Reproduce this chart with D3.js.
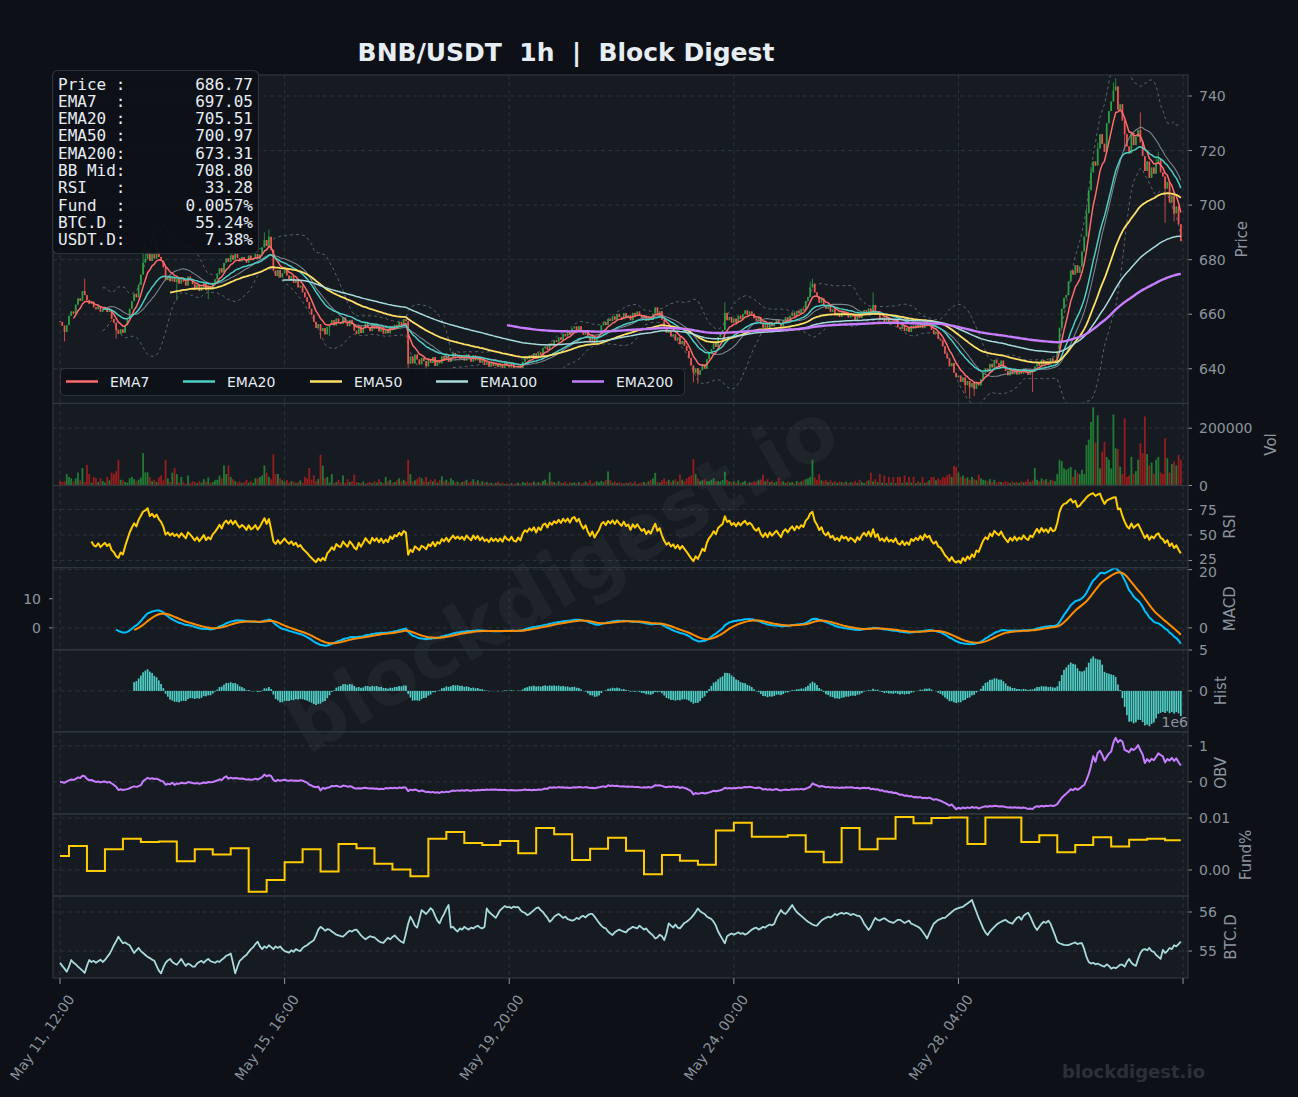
<!DOCTYPE html>
<html><head><meta charset="utf-8">
<script src="https://cdn.jsdelivr.net/npm/d3@7"></script>
<style>
html,body{margin:0;padding:0;background:#0d1117;}
svg{display:block;font-family:"DejaVu Sans",sans-serif;}
</style></head><body>
<svg id="c" width="1298" height="1097"></svg>
<script>
// ---------------- DATA ----------------
const firstOpen = 657.5;
const closes = [
657.2,655.8,653.5,656.0,659.4,661.0,660.2,663.5,665.8,664.9,
668.5,667.0,665.2,663.8,664.6,662.5,661.8,663.0,660.9,661.7,
662.4,660.8,661.5,658.2,656.9,654.1,652.8,654.5,653.2,656.0,
658.7,662.0,664.8,667.5,666.2,670.8,674.5,678.9,680.2,683.0,
679.5,682.0,680.4,683.1,681.0,679.6,677.2,672.5,674.0,672.1,
673.5,671.8,672.9,671.2,673.4,672.0,670.5,673.8,672.6,671.0,
669.2,670.8,668.5,669.9,671.6,668.8,670.2,669.0,671.5,672.8,
674.6,676.9,675.3,678.8,680.5,679.2,681.6,680.0,682.3,680.6,
679.4,681.0,680.2,678.9,681.5,679.8,680.6,682.1,680.3,681.9,
684.5,687.2,685.0,688.4,683.6,676.0,674.0,676.2,673.5,675.0,
676.5,674.2,672.8,674.0,671.5,672.6,669.8,670.5,668.0,666.2,
664.5,662.0,659.8,657.2,655.0,656.4,653.8,654.9,652.6,655.3,
656.2,657.8,655.9,658.4,657.0,656.5,658.8,657.1,655.6,657.9,
656.3,654.0,652.8,655.5,653.1,654.8,656.9,655.2,653.8,656.4,
654.6,655.9,653.7,655.3,652.9,654.4,653.0,655.6,654.2,656.1,
655.5,657.2,656.0,658.1,657.4,641.8,644.5,642.0,645.2,643.4,
641.6,644.0,642.8,640.9,643.5,642.1,644.3,641.0,643.2,642.0,
644.6,643.1,645.0,642.5,644.2,645.8,643.9,645.1,643.6,644.8,
643.0,645.2,643.8,642.6,644.9,643.1,644.5,642.2,643.6,641.5,
642.3,640.8,642.5,641.0,642.0,640.6,641.8,640.2,642.4,641.1,
640.5,641.9,640.1,639.8,641.2,640.0,642.6,644.1,643.5,645.0,
644.2,645.6,643.8,646.0,645.1,647.5,648.2,646.9,649.3,648.6,
650.4,649.8,651.5,650.6,652.8,651.9,653.6,652.4,654.8,655.5,
654.2,655.6,653.8,652.5,654.0,651.8,650.2,652.0,649.5,651.3,
652.8,655.9,657.1,656.0,658.3,657.5,659.2,658.0,660.1,659.0,
658.2,660.4,658.9,659.6,657.8,660.5,659.3,661.0,659.8,658.6,
659.5,657.6,658.9,657.9,660.2,662.5,659.8,661.1,658.0,655.4,
653.2,654.0,651.8,652.6,650.3,651.5,649.0,650.2,648.4,646.5,
644.0,641.2,638.5,640.2,637.8,639.5,641.6,640.0,643.5,645.8,
647.2,649.5,648.0,651.6,653.0,654.2,660.5,657.8,659.0,656.9,
658.4,656.8,659.5,658.2,660.1,661.4,659.8,661.0,660.2,658.5,
657.6,659.0,656.5,655.0,656.8,654.9,657.2,655.6,656.9,658.0,
656.5,655.2,657.8,658.9,657.6,659.4,660.6,659.1,661.2,660.3,
662.0,661.4,664.8,666.3,669.8,671.2,668.0,666.5,664.2,665.8,
663.1,662.0,663.5,660.9,661.8,659.6,660.5,659.0,661.2,659.9,
660.6,658.8,660.0,659.2,657.9,659.8,658.6,660.4,661.5,660.2,
662.1,660.0,663.4,659.8,661.2,657.9,658.8,657.2,659.0,656.8,
657.6,656.4,657.9,655.2,654.6,656.0,653.8,654.9,653.5,655.8,
654.8,656.1,655.0,656.7,654.9,657.2,655.8,656.5,654.2,652.8,
653.6,651.0,650.4,648.2,645.5,643.8,640.9,642.1,638.5,636.9,
637.5,635.2,636.8,634.0,635.5,633.2,634.8,632.6,635.0,633.9,
636.2,638.5,640.1,639.0,641.8,640.5,643.2,642.0,641.1,643.0,
640.8,639.2,637.6,639.5,638.0,639.8,637.9,639.1,638.2,640.0,
638.5,637.8,639.6,638.9,640.8,642.5,641.0,643.2,641.8,642.9,
641.6,643.8,642.5,643.0,646.5,655.0,662.0,666.0,667.0,672.0,
676.0,674.5,678.0,675.2,677.5,683.0,688.5,697.0,705.5,712.0,
716.0,714.5,720.8,726.0,722.5,719.5,730.0,734.5,738.0,742.0,
743.5,735.0,737.0,731.0,726.0,721.5,719.0,726.5,722.0,725.0,
727.5,723.0,718.0,712.5,716.0,710.0,713.8,711.5,715.2,717.0,
712.0,710.5,706.0,708.5,701.0,703.5,697.0,699.5,693.0,686.77
];
// notable wick extremes [index, price]
const wickHighs = [[11,673],[37,684],[38,686],[43,686],[91,690],[93,691],[296,664.5],[334,672],[335,673],[362,668],[457,699],[459,714],[462,723],[469,745],[470,746.5],[481,734],[488,718],[489,719.5]];
const wickLows = [[2,650],[25,651],[52,665],[66,665.5],[116,651],[120,652],[155,639],[163,638],[282,635],[284,634.5],[403,631],[405,629],[407,630],[433,631.5],[474,720],[492,693.5],[496,694]];
// volume in thousands
const volumeK = [
15,12,15,40,30,25,14,25,45,18,
61,12,72,40,10,30,25,12,25,16,
10,30,18,45,40,50,90,20,18,12,
10,25,30,22,15,20,28,113,46,46,
30,15,20,12,28,35,18,90,25,12,
45,61,40,10,30,12,6,35,9,15,
12,8,15,10,22,14,28,10,12,18,
20,35,25,70,40,70,30,22,15,10,
14,8,12,20,10,15,9,25,25,30,
35,70,45,30,22,109,40,40,25,18,
12,20,10,15,14,8,12,18,10,30,
25,61,20,35,15,22,107,70,25,30,
10,40,8,12,20,10,35,9,22,12,
15,38,12,10,8,14,6,10,12,8,
15,10,22,12,8,30,14,20,10,12,
18,25,14,20,15,90,40,15,18,22,
30,25,15,30,12,20,14,22,10,18,
32,15,20,12,25,18,10,14,8,12,
15,20,10,14,22,12,18,8,15,10,
12,8,10,6,9,14,7,10,5,8,
6,9,5,8,10,6,12,9,14,8,
10,14,8,12,9,16,20,10,46,14,
12,9,15,10,8,14,6,12,9,11,
8,12,6,10,14,9,18,7,12,15,
10,16,12,20,49,18,10,14,8,12,
9,6,10,8,12,7,14,5,9,10,
12,8,15,20,25,44,12,10,18,25,
15,20,12,18,22,14,38,20,15,25,
30,35,92,40,25,15,18,22,15,15,
20,25,15,15,15,20,48,20,15,12,
14,10,18,9,12,16,8,12,10,14,
12,18,20,38,15,22,12,16,10,14,
26,12,15,9,14,10,12,8,16,11,
14,18,22,25,30,90,28,20,40,18,
15,20,12,18,10,16,9,14,12,10,
14,8,12,10,16,9,20,12,8,15,
18,45,14,22,12,40,10,35,9,30,
10,30,8,30,30,9,35,11,30,10,
30,8,15,10,30,9,12,18,30,30,
18,25,20,30,28,35,40,30,69,65,
45,30,35,25,28,20,30,22,18,38,
25,20,18,15,22,12,20,10,14,12,
10,15,12,8,14,10,12,9,15,11,
14,22,12,18,61,20,15,25,18,22,
12,20,18,15,40,90,85,60,55,60,
65,30,55,45,40,55,40,141,160,222,
273,150,245,60,118,152,100,90,60,248,
130,127,66,40,234,30,35,100,40,50,
90,147,113,241,110,70,80,40,90,100,
45,40,165,95,45,75,84,70,107,90
];
const btcDom = [
54.70,54.62,54.55,54.47,54.60,54.77,54.70,54.66,54.60,54.55,
54.50,54.44,54.62,54.77,54.72,54.75,54.70,54.74,54.78,54.72,
54.77,54.85,54.92,55.03,55.15,55.25,55.37,55.28,55.20,55.22,
55.18,55.15,55.05,54.95,55.02,55.08,55.00,54.95,54.90,54.85,
54.82,54.78,54.75,54.62,54.50,54.43,54.58,54.70,54.76,54.80,
54.72,54.68,54.65,54.72,54.80,54.70,54.62,54.68,54.65,54.60,
54.60,54.68,54.72,54.75,54.70,54.76,54.80,54.74,54.72,54.70,
54.74,54.72,54.78,54.82,54.88,54.90,54.94,54.70,54.43,54.60,
54.75,54.80,54.86,54.90,54.98,55.05,55.10,55.18,55.24,55.12,
55.05,55.12,55.08,55.15,55.10,55.05,55.12,55.08,55.12,55.05,
55.00,54.98,54.96,55.02,54.98,55.05,55.02,55.00,55.08,55.12,
55.15,55.20,55.24,55.28,55.40,55.55,55.62,55.58,55.52,55.56,
55.55,55.50,55.46,55.42,55.40,55.38,55.37,55.42,55.48,55.52,
55.50,55.54,55.55,55.48,55.40,55.35,55.30,55.34,55.38,55.36,
55.35,55.30,55.25,55.22,55.21,55.28,55.34,55.30,55.36,55.40,
55.34,55.28,55.24,55.21,55.45,55.70,55.88,55.78,55.65,55.60,
55.82,56.05,56.00,55.95,56.02,56.10,56.04,55.90,55.78,55.71,
55.85,55.95,56.08,56.18,55.60,55.62,55.55,55.50,55.58,55.55,
55.62,55.58,55.55,55.60,55.58,55.62,55.65,55.60,55.58,55.62,
56.09,56.00,55.95,55.90,55.85,55.95,56.05,56.10,56.15,56.12,
56.13,56.10,56.14,56.12,56.13,56.05,56.00,55.98,55.92,55.95,
56.00,56.05,56.10,56.12,56.05,56.00,55.92,55.85,55.75,55.80,
55.88,55.92,55.95,55.90,55.85,55.88,55.82,55.80,55.78,55.80,
55.85,55.82,55.88,55.90,55.86,55.92,55.95,55.95,55.88,55.80,
55.72,55.65,55.60,55.58,55.50,55.45,55.41,55.48,55.52,55.55,
55.52,55.50,55.48,55.55,55.58,55.62,55.60,55.58,55.65,55.60,
55.55,55.58,55.50,55.45,55.40,55.32,55.35,55.42,55.38,55.28,
55.45,55.71,55.65,55.60,55.68,55.60,55.58,55.65,55.72,55.75,
55.80,55.85,55.92,56.00,56.09,56.02,55.98,55.95,55.88,55.85,
55.82,55.75,55.65,55.50,55.40,55.30,55.20,55.38,55.42,55.45,
55.42,55.45,55.48,55.44,55.46,55.42,55.45,55.50,55.55,55.58,
55.60,55.55,55.58,55.62,55.60,55.65,55.68,55.66,55.70,55.85,
55.95,56.05,55.98,55.95,56.02,56.10,56.18,56.08,56.00,55.95,
55.90,55.85,55.80,55.75,55.72,55.68,55.66,55.65,55.72,55.78,
55.82,55.85,55.88,55.86,55.90,55.95,55.92,55.96,55.98,55.95,
55.98,55.96,55.92,55.95,55.93,55.90,55.90,55.82,55.70,55.62,
55.54,55.62,55.75,55.85,55.80,55.78,55.82,55.84,55.80,55.76,
55.74,55.72,55.76,55.80,55.80,55.76,55.72,55.75,55.78,55.70,
55.68,55.65,55.62,55.58,55.50,55.42,55.32,55.45,55.58,55.70,
55.75,55.80,55.82,55.85,55.85,55.90,55.95,56.00,56.05,56.08,
56.10,56.12,56.13,56.18,56.22,56.26,56.31,56.15,56.00,55.85,
55.72,55.58,55.48,55.41,55.50,55.56,55.62,55.68,55.72,55.75,
55.78,55.80,55.75,55.72,55.70,55.78,55.85,55.88,55.80,55.90,
55.95,55.98,55.88,55.75,55.62,55.54,55.62,55.70,55.75,55.72,
55.78,55.70,55.55,55.40,55.24,55.20,55.18,55.16,55.15,55.15,
55.18,55.20,55.22,55.18,55.20,55.20,55.05,54.85,54.72,54.68,
54.70,54.66,54.68,54.65,54.62,54.60,54.66,54.62,54.55,54.58,
54.56,54.60,54.65,54.65,54.60,54.72,54.80,54.70,54.65,54.62,
54.80,54.95,55.03,55.05,55.02,55.08,55.00,54.98,54.90,54.85,
54.80,55.03,54.95,55.00,55.08,55.05,55.15,55.12,55.18,55.24
];
// funding rate (%), one value per 8h period; first period covers candles 0-3
const fundPeriods = [
0.0027,0.0046,-0.0002,0.0040,0.0060,0.0054,0.0055,0.0017,0.0040,0.0030,
0.0042,-0.0042,-0.0019,0.0015,0.0040,-0.0003,0.0050,0.0042,0.0012,0.0001,
-0.0012,0.0060,0.0073,0.0052,0.0048,0.0056,0.0032,0.0081,0.0069,0.0019,
0.0041,0.0062,0.0037,-0.0008,0.0029,0.0018,0.0010,0.0076,0.0091,0.0064,
0.0064,0.0067,0.0035,0.0015,0.0081,0.0040,0.0060,0.0102,0.0090,0.0100,
0.0101,0.0050,0.0101,0.0101,0.0054,0.0067,0.0034,0.0048,0.0063,0.0045,
0.0058,0.0060,0.0057
];
const emaNames = ["EMA7","EMA20","EMA50","EMA100","EMA200"];
const emaSpans = [7,20,50,100,200];
const xTickIndex = [0,100,200,300,400,500];
const xTickLabels = ["May 11, 12:00","May 15, 16:00","May 19, 20:00","May 24, 00:00","May 28, 04:00",""];
const infoLabels = ["Price :","EMA7  :","EMA20 :","EMA50 :","EMA200:","BB Mid:","RSI   :","Fund  :","BTC.D :","USDT.D:"];
const infoValues = ["686.77","697.05","705.51","700.97","673.31","708.80","33.28","0.0057%","55.24%","7.38%"];
const titleText = "BNB/USDT  1h  |  Block Digest";

// ---------------- DERIVED ----------------
const N = closes.length;
const opens = closes.map((c,i)=> i===0 ? firstOpen : closes[i-1]);
const highs = closes.map((c,i)=> Math.max(c, opens[i]));
const lows  = closes.map((c,i)=> Math.min(c, opens[i]));
wickHighs.forEach(([i,v])=>{highs[i]=Math.max(highs[i],v);});
wickLows.forEach(([i,v])=>{lows[i]=Math.min(lows[i],v);});
const volume = volumeK.map(v=>v*1000);
const fund = closes.map((c,i)=> fundPeriods[Math.floor((i+4)/8)]);

function ema(src, span, minP){
  const a = 2/(span+1); let e=null, n=0;
  return src.map(v=>{ if(v==null) return null; e = e==null ? v : a*v+(1-a)*e; n++; return n>=minP ? e : null; });
}
const emas = emaSpans.map(s=>ema(closes, s, s));
const ema12 = ema(closes,12,12), ema26 = ema(closes,26,26);
const macd = closes.map((c,i)=> (ema12[i]!=null && ema26[i]!=null) ? ema12[i]-ema26[i] : null);
const signal = ema(macd, 9, 9);
const hist = macd.map((m,i)=> (m!=null && signal[i]!=null) ? m-signal[i] : null);
const rsi = closes.map(()=>null);
{ let ag=null, al=null, n=0;
  for(let i=1;i<N;i++){ const d=closes[i]-closes[i-1]; const g=Math.max(d,0), l=Math.max(-d,0);
    if(ag==null){ag=g;al=l;} else {ag+= (g-ag)/14; al += (l-al)/14;}
    n++; if(n>=14) rsi[i] = al===0 ? 100 : 100-100/(1+ag/al); } }
const bbMid=[], bbUp=[], bbLo=[];
for(let i=0;i<N;i++){
  if(i<19){bbMid.push(null);bbUp.push(null);bbLo.push(null);continue;}
  const w=closes.slice(i-19,i+1); const m=d3.mean(w); const sd=d3.deviation(w);
  bbMid.push(m); bbUp.push(m+2*sd); bbLo.push(m-2*sd);
}
const obv=[0]; for(let i=1;i<N;i++){ const d=closes[i]-closes[i-1]; obv.push(obv[i-1] + (d>0?volume[i]:(d<0?-volume[i]:0))); }

// ---------------- LAYOUT ----------------
const W=1298, H=1097, L=53, R=1188;
const BG="#0d1117", PANEL="#161b22", EDGE="#30363d", GRID="#30363d", TXT="#8b949e", WHITE="#e6edf3";
const svg=d3.select("#c");
svg.append("rect").attr("width",W).attr("height",H).attr("fill",BG);
const x=d3.scaleLinear().domain([-3.12,502.2]).range([L,R]);
const idx=d3.range(N);

const panels=[
 {k:"price",top:75,bot:403.4,dom:[627.3,747.7],ticks:[640,660,680,700,720,740],label:"Price",lx:1247},
 {k:"vol",top:403.4,bot:485.5,dom:[0,d3.max(volume)*1.05],ticks:[0,200000],label:"Vol",lx:1276},
 {k:"rsi",top:485.5,bot:567.6,dom:[18,98.5],ticks:[25,50,75],label:"RSI",lx:1235,nudge:{25:-2}},
 {k:"macd",top:567.6,bot:649.7,dom:[-7.5,20.7],ticks:[0,20],left:[0,10],label:"MACD",lx:1235,nudge:{20:2.5}},
 {k:"hist",top:649.7,bot:731.8,dom:[-5.0,5.04],ticks:[0,5],label:"Hist",lx:1226},
 {k:"obv",top:731.8,bot:813.9,dom:[-0.89e6,1.39e6],ticks:[0,1e6],fmt:d=>String(d/1e6),label:"OBV",lx:1226},
 {k:"fund",top:813.9,bot:896,dom:[-0.005,0.01079],ticks:[0,0.01],fmt:d=>d.toFixed(2),label:"Fund%",lx:1251},
 {k:"btc",top:896,bot:978,dom:[54.31,56.41],ticks:[55,56],label:"BTC.D",lx:1236}
];
const P={};
const defs=svg.append("defs");
panels.forEach(p=>{
  p.y=d3.scaleLinear().domain(p.dom).range([p.bot,p.top]);
  P[p.k]=p;
  svg.append("rect").attr("x",L).attr("y",p.top).attr("width",R-L).attr("height",p.bot-p.top).attr("fill",PANEL);
  defs.append("clipPath").attr("id","cl-"+p.k).append("rect").attr("x",L).attr("y",p.top).attr("width",R-L).attr("height",p.bot-p.top);
  const g=svg.append("g");
  xTickIndex.forEach(t=>g.append("line").attr("x1",x(t)).attr("x2",x(t)).attr("y1",p.top).attr("y2",p.bot)
     .attr("stroke",GRID).attr("stroke-width",0.9).attr("stroke-dasharray","4,3.5"));
  p.ticks.forEach(t=>{
    const yy=p.y(t);
    const ny=(p.nudge&&p.nudge[t])||0;
    g.append("line").attr("x1",L).attr("x2",R).attr("y1",yy).attr("y2",yy).attr("stroke",GRID).attr("stroke-width",0.9).attr("stroke-dasharray","4,3.5");
    g.append("line").attr("x1",R).attr("x2",R+4).attr("y1",yy).attr("y2",yy).attr("stroke",TXT).attr("stroke-width",1);
    g.append("text").attr("x",R+11).attr("y",yy+ny).attr("dy","0.36em").attr("fill",TXT).attr("font-size",14).text(p.fmt?p.fmt(t):String(t));
  });
  if(p.left) p.left.forEach(t=>{
    const yy=p.y(t);
    g.append("line").attr("x1",L-4).attr("x2",L).attr("y1",yy).attr("y2",yy).attr("stroke",TXT);
    g.append("text").attr("x",L-12).attr("y",yy).attr("dy","0.36em").attr("text-anchor","end").attr("fill",TXT).attr("font-size",14).text(String(t));
  });
  svg.append("text").attr("transform",`translate(${p.lx},${(p.top+p.bot)/2}) rotate(-90)`).attr("text-anchor","middle")
    .attr("fill",TXT).attr("font-size",15).text(p.label);
  p.g=svg.append("g").attr("clip-path",`url(#cl-${p.k})`);
});

function lineOn(p, arr, color, w, dash, op){
  const ln=d3.line().defined(i=>arr[i]!=null).x(i=>x(i)).y(i=>p.y(arr[i]));
  p.g.append("path").attr("d",ln(idx)).attr("fill","none").attr("stroke",color).attr("stroke-width",w)
   .attr("stroke-dasharray",dash||null).attr("opacity",op==null?1:op).attr("stroke-linejoin","round");
}

// watermark (behind data)
svg.append("text").attr("transform","translate(565,582) rotate(-30)").attr("text-anchor","middle").attr("dominant-baseline","middle")
  .attr("font-size",78).attr("font-weight","bold").attr("fill","#ffffff").attr("opacity",0.035).text("blockdigest.io");

// price panel
const pp=P.price;
lineOn(pp,bbUp,"#6e7681",1,"3,3",0.8);
lineOn(pp,bbLo,"#6e7681",1,"3,3",0.8);
const UP="#2ea043", DN="#f0564f";
pp.g.selectAll("line.w").data(idx).enter().append("line")
  .attr("x1",i=>x(i)).attr("x2",i=>x(i)).attr("y1",i=>pp.y(highs[i])).attr("y2",i=>pp.y(lows[i]))
  .attr("stroke",i=>closes[i]>=opens[i]?UP:DN).attr("stroke-width",0.8);
pp.g.selectAll("rect.b").data(idx).enter().append("rect")
  .attr("x",i=>x(i)-0.85).attr("width",1.7)
  .attr("y",i=>pp.y(Math.max(opens[i],closes[i])))
  .attr("height",i=>Math.max(0.8,Math.abs(pp.y(opens[i])-pp.y(closes[i]))))
  .attr("fill",i=>closes[i]>=opens[i]?UP:DN);
lineOn(pp,bbMid,"#8b949e",1.1,null,0.85);
const emaColors=["#ff6b6b","#4ecdc4","#ffe066","#a8dadc","#c77dff"];
const emaWidths=[1.5,1.5,1.8,1.5,2.4];
emas.forEach((e,k)=>lineOn(pp,e,emaColors[k],emaWidths[k]));

// volume
const pv=P.vol;
pv.g.selectAll("rect").data(idx).enter().append("rect")
  .attr("x",i=>x(i)-0.9).attr("width",1.8).attr("y",i=>pv.y(volume[i])).attr("height",i=>pv.y(0)-pv.y(volume[i]))
  .attr("fill",i=>closes[i]>=opens[i]?"#238636":"#a61d1d").attr("opacity",0.9);

lineOn(P.rsi,rsi,"#ffcc00",2);
lineOn(P.macd,macd,"#00bfff",2);
lineOn(P.macd,signal,"#ff8c00",2);
const ph=P.hist;
ph.g.selectAll("rect").data(idx.filter(i=>hist[i]!=null)).enter().append("rect")
  .attr("x",i=>x(i)-0.85).attr("width",1.7)
  .attr("y",i=>ph.y(Math.max(0,hist[i]))).attr("height",i=>Math.abs(ph.y(hist[i])-ph.y(0)))
  .attr("fill","#4ecdc4");
lineOn(P.obv,obv,"#c77dff",2);
{ const pf=P.fund; const ln=d3.line().curve(d3.curveStepAfter).x(i=>x(i)).y(i=>pf.y(fund[i]));
  pf.g.append("path").attr("d",ln(idx)).attr("fill","none").attr("stroke","#ffcc00").attr("stroke-width",2); }
lineOn(P.btc,btcDom,"#a8dadc",1.8);

panels.forEach(p=>svg.append("rect").attr("x",L).attr("y",p.top).attr("width",R-L).attr("height",p.bot-p.top)
  .attr("fill","none").attr("stroke",EDGE).attr("stroke-width",1.2));

svg.append("text").attr("x",R).attr("y",727).attr("text-anchor","end").attr("fill",TXT).attr("font-size",14).text("1e6");

// x axis
xTickIndex.forEach((t,k)=>{
  svg.append("line").attr("x1",x(t)).attr("x2",x(t)).attr("y1",978).attr("y2",984).attr("stroke",TXT);
  if(xTickLabels[k]) svg.append("text").attr("transform",`translate(${x(t)-17},1038) rotate(-55)`).attr("text-anchor","middle")
    .attr("dominant-baseline","middle").attr("fill",TXT).attr("font-size",14).text(xTickLabels[k]);
});

// legend
{ const lg=svg.append("g");
  lg.append("rect").attr("x",60.5).attr("y",368.5).attr("width",624).attr("height",27).attr("rx",4)
    .attr("fill",BG).attr("opacity",0.9).attr("stroke",EDGE);
  const xs=[66,183,310,436,572];
  emaNames.forEach((n,k)=>{
    lg.append("line").attr("x1",xs[k]).attr("x2",xs[k]+32).attr("y1",381.5).attr("y2",381.5).attr("stroke",emaColors[k]).attr("stroke-width",2.5);
    lg.append("text").attr("x",xs[k]+44).attr("y",381.5).attr("dy","0.36em").attr("fill",WHITE).attr("font-size",14).text(n);
  });
}

// info box
{ const ib=svg.append("g");
  ib.append("rect").attr("x",52.5).attr("y",70.5).attr("width",206).attr("height",183).attr("rx",5)
    .attr("fill",BG).attr("opacity",0.92).attr("stroke",EDGE).attr("stroke-width",1.2);
  infoLabels.forEach((l,k)=>{
    const yy=89.5+k*17.33;
    ib.append("text").attr("x",58).attr("y",yy).attr("fill",WHITE).attr("font-size",16)
      .attr("font-family","'DejaVu Sans Mono',monospace").style("white-space","pre").text(l);
    ib.append("text").attr("x",253).attr("y",yy).attr("text-anchor","end").attr("fill",WHITE).attr("font-size",16)
      .attr("font-family","'DejaVu Sans Mono',monospace").text(infoValues[k]);
  });
}

svg.append("text").attr("x",566).attr("y",61).attr("text-anchor","middle").attr("fill",WHITE)
  .attr("font-size",25).attr("font-weight","bold").style("white-space","pre").text(titleText);
svg.append("text").attr("x",1205).attr("y",1078).attr("text-anchor","end").attr("fill","#2b3038")
  .attr("font-size",18).attr("font-weight","bold").text("blockdigest.io");
</script>
</body></html>
